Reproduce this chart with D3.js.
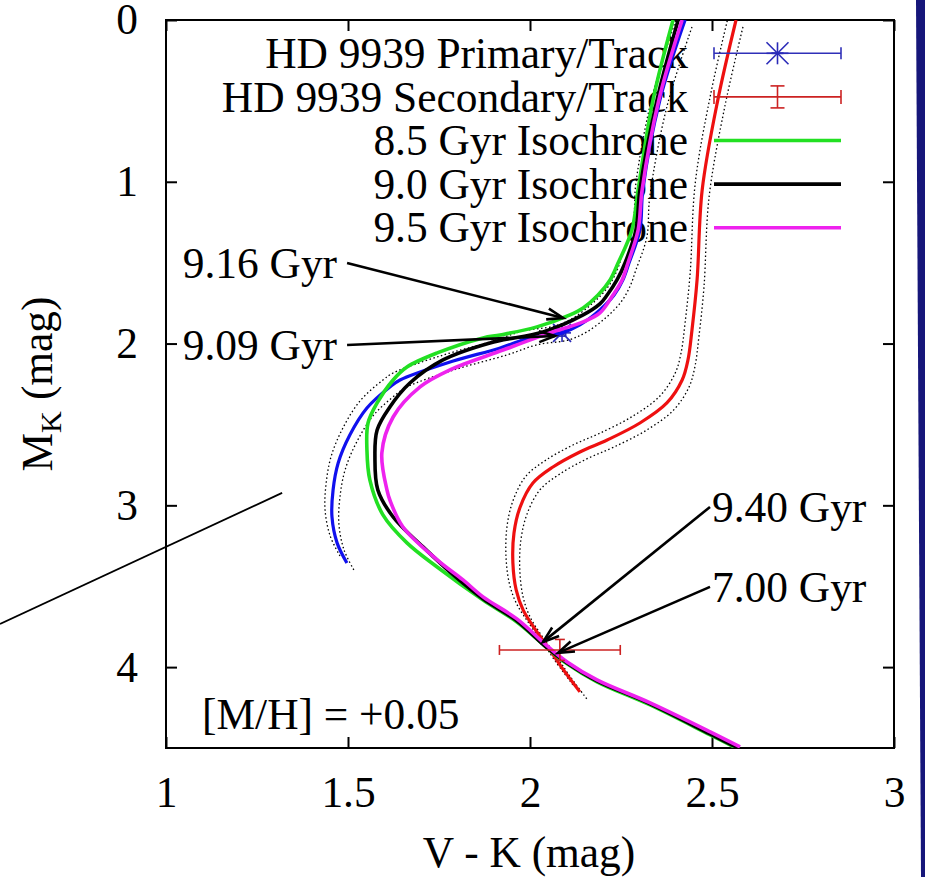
<!DOCTYPE html>
<html>
<head>
<meta charset="utf-8">
<script src="https://cdn.jsdelivr.net/npm/d3@7"></script>
<style>
    body { margin: 0; background: #ffffff; }
    svg { display: block; }
    text { font-family: "Liberation Serif", "Tinos", "Times New Roman", "Nimbus Roman", "FreeSerif", "Noto Serif", "DejaVu Serif", serif; fill: #000; }
</style>
</head>
<body>
<div class="cmdChart"></div>
<script>
// axis ticks
const xTicks = [1, 1.5, 2, 2.5, 3]
const yTicks = [0, 1, 2, 3, 4]

// legend entries
const legendLabels = ["HD 9939 Primary/Track", "HD 9939 Secondary/Track",
    "8.5 Gyr Isochrone", "9.0 Gyr Isochrone", "9.5 Gyr Isochrone"]

// evolutionary tracks [V-K, M_K]
const primaryTrack = [[2.426, 0], [2.357, 0.494], [2.310, 1.051], [2.302, 1.298], [2.272, 1.502],
    [2.255, 1.607], [2.231, 1.700], [2.192, 1.792], [2.137, 1.885], [2.088, 1.934], [2.000, 1.965],
    [1.918, 2.027], [1.772, 2.120], [1.643, 2.225], [1.615, 2.268], [1.552, 2.398], [1.505, 2.565],
    [1.473, 2.738], [1.459, 2.905], [1.456, 3.072], [1.470, 3.232], [1.497, 3.356]]
const secondaryTrack = [[2.566, 0], [2.516, 0.494], [2.473, 1.051], [2.459, 1.607], [2.445, 1.916],
    [2.434, 2.101], [2.418, 2.225], [2.376, 2.367], [2.302, 2.491], [2.212, 2.596], [2.137, 2.670],
    [2.063, 2.763], [2.008, 2.862], [1.973, 3.010], [1.956, 3.171], [1.953, 3.356], [1.962, 3.523],
    [1.981, 3.646], [2.019, 3.782], [2.055, 3.894], [2.088, 4.005], [2.137, 4.153]]
// track uncertainty (dotted envelopes), mag
const trackSigma = [0.019, 0.043]

// isochrones
const iso85 = [[2.393, 0], [2.338, 0.494], [2.297, 1.051], [2.280, 1.298], [2.242, 1.502], [2.220, 1.607],
    [2.187, 1.700], [2.146, 1.780], [2.110, 1.823], [2.019, 1.897], [1.918, 1.947], [1.871, 1.965],
    [1.745, 2.058], [1.662, 2.145], [1.624, 2.225], [1.580, 2.367], [1.555, 2.491], [1.552, 2.658],
    [1.560, 2.843], [1.596, 3.059], [1.662, 3.232], [1.745, 3.381], [1.871, 3.585], [1.964, 3.721],
    [2.047, 3.881], [2.102, 3.980], [2.184, 4.091], [2.330, 4.234], [2.495, 4.419], [2.577, 4.512]]
const iso90 = [[2.407, 0], [2.349, 0.494], [2.302, 1.051], [2.291, 1.298], [2.261, 1.502], [2.239, 1.607],
    [2.212, 1.700], [2.192, 1.755], [2.146, 1.823], [2.036, 1.928], [1.890, 1.996], [1.761, 2.101],
    [1.670, 2.244], [1.615, 2.392], [1.580, 2.534], [1.574, 2.701], [1.582, 2.905], [1.624, 3.072],
    [1.706, 3.257], [1.799, 3.449], [1.871, 3.578], [1.964, 3.714], [2.047, 3.881], [2.102, 3.974],
    [2.184, 4.085], [2.330, 4.227], [2.495, 4.413], [2.577, 4.506]]
const iso95 = [[2.418, 0], [2.354, 0.494], [2.308, 1.051], [2.297, 1.298], [2.269, 1.502], [2.253, 1.607],
    [2.228, 1.700], [2.192, 1.811], [2.146, 1.866], [2.055, 1.934], [1.926, 2.040], [1.780, 2.163],
    [1.698, 2.268], [1.624, 2.454], [1.593, 2.676], [1.607, 2.905], [1.615, 2.967], [1.651, 3.134],
    [1.745, 3.337], [1.816, 3.461], [1.871, 3.566], [1.964, 3.702], [2.047, 3.869], [2.102, 3.968],
    [2.184, 4.079], [2.330, 4.221], [2.495, 4.400], [2.577, 4.493]]

// observed stars: [V-K, M_K, errV-K, errM_K]
const primaryStar = [2.088, 1.934, 0.01, 0.02]
const secondaryStar = [2.082, 3.894, 0.166, 0.065]

// age labels with arrows
const ageLabels = ["9.16 Gyr", "9.09 Gyr", "9.40 Gyr", "7.00 Gyr"]
const ageLabelPos = [[1.470, 1.502], [1.470, 2.009], [2.500, 3.010], [2.500, 3.504]]
const ageArrowTips = [[2.091, 1.842], [2.069, 1.953], [2.036, 3.844], [2.077, 3.912]]

const metalLabel = "[M/H] = +0.05"
const metalPos = [1.099, 4.289]

// stray pointer line from the slide
const pointerLine = [[0.544, 3.733], [1.319, 2.923]]

function renderHRChart() {
    const width = 925
    const height = 877
    const margin = {left: 166, top: 20, right: 31, bottom: 129}

    const svg = d3.select('.cmdChart').append('svg')
        .attr('width', width)
        .attr('height', height)
        .attr('viewBox', `0 0 ${width} ${height}`)

    // size the font so the first legend entry spans ~423px like the original
    const probe = svg.append('text').attr('font-size', '41px').text(legendLabels[0])
    const probeLen = probe.node().getComputedTextLength() || 423
    probe.remove()
    const fontSize = Math.max(32, Math.min(46, 41 * 423 / probeLen))

    const x = d3.scaleLinear().domain([1, 3]).range([margin.left, width - margin.right])
    const y = d3.scaleLinear().domain([0, 4.5]).range([margin.top, height - margin.bottom])

    // slide edge on the right
    svg.append('path')
        .attr('d', `M916,0 L925,0 L925,${height} L921,${height} Z`)
        .attr('fill', '#16167a')

    svg.append('clipPath').attr('id', 'plotClip')
        .append('rect')
        .attr('x', x(1)).attr('y', y(0))
        .attr('width', x(3) - x(1)).attr('height', y(4.5) - y(0))

    // axes
    const fmt = d3.format('')
    const styleAxis = g => {
        g.select('.domain').remove()
        g.selectAll('line').attr('stroke', '#000').attr('stroke-width', 2)
        g.selectAll('text').attr('font-size', fontSize + 'px')
        g.attr('font-family', null).attr('font-size', null)
    }
    svg.append('g')
        .attr('transform', `translate(0,${y(4.5)})`)
        .call(d3.axisBottom(x).tickValues(xTicks).tickSize(-11).tickPadding(28).tickFormat(fmt))
        .call(styleAxis)
    svg.append('g')
        .attr('transform', `translate(0,${y(0)})`)
        .call(d3.axisTop(x).tickValues(xTicks).tickSize(-11).tickFormat(''))
        .call(styleAxis)
    svg.append('g')
        .attr('transform', `translate(${x(1)},0)`)
        .call(d3.axisLeft(y).tickValues(yTicks).tickSize(-11).tickPadding(28).tickFormat(fmt))
        .call(styleAxis)
    svg.append('g')
        .attr('transform', `translate(${x(3)},0)`)
        .call(d3.axisRight(y).tickValues(yTicks).tickSize(-11).tickFormat(''))
        .call(styleAxis)

    svg.append('rect')
        .attr('x', x(1)).attr('y', y(0))
        .attr('width', x(3) - x(1)).attr('height', y(4.5) - y(0))
        .attr('fill', 'none').attr('stroke', '#000').attr('stroke-width', 2)

    // axis titles
    svg.append('text')
        .attr('x', (x(1) + x(3)) / 2 - 1)
        .attr('y', 867)
        .attr('text-anchor', 'middle')
        .attr('font-size', fontSize + 'px')
        .text('V - K (mag)')

    const yTitle = svg.append('text')
        .attr('transform', 'translate(52,384) rotate(-90)')
        .attr('text-anchor', 'middle')
        .attr('font-size', fontSize + 'px')
    yTitle.append('tspan').text('M')
    yTitle.append('tspan').attr('dy', 9).attr('font-size', (fontSize * 0.7) + 'px').text('K')
    yTitle.append('tspan').attr('dy', -9).text(' (mag)')

    // legend text (curves are drawn over it)
    const legendTop = 53.3
    const legendStep = 43.6
    const legend = svg.selectAll('.legend')
        .data(legendLabels).enter()
        .append('g')
        .attr('class', 'legend')
        .attr('transform', (d, i) => `translate(0,${legendTop + legendStep * i})`)
    legend.append('text')
        .attr('x', 688)
        .attr('dy', '0.34em')
        .attr('text-anchor', 'end')
        .attr('font-size', fontSize + 'px')
        .text(d => d)

    const plot = svg.append('g').attr('clip-path', 'url(#plotClip)')
    const line = d3.line()
        .x(d => x(d[0]))
        .y(d => y(d[1]))
        .curve(d3.curveCatmullRom.alpha(0.5))

    // error bars
    const errorBar = (g, cx, cy, x0, x1, y0, y1, colour, cap) => {
        const bar = g.append('g').attr('stroke', colour).attr('stroke-width', 1.6).attr('fill', 'none')
        bar.append('line').attr('x1', x0).attr('x2', x1).attr('y1', cy).attr('y2', cy)
        bar.append('line').attr('x1', cx).attr('x2', cx).attr('y1', y0).attr('y2', y1)
        bar.append('line').attr('x1', x0).attr('x2', x0).attr('y1', cy - cap).attr('y2', cy + cap)
        bar.append('line').attr('x1', x1).attr('x2', x1).attr('y1', cy - cap).attr('y2', cy + cap)
        bar.append('line').attr('x1', cx - cap).attr('x2', cx + cap).attr('y1', y0).attr('y2', y0)
        bar.append('line').attr('x1', cx - cap).attr('x2', cx + cap).attr('y1', y1).attr('y2', y1)
    }
    const star = (g, cx, cy, r, colour) => {
        const s = g.append('g').attr('stroke', colour).attr('stroke-width', 1.6)
        s.append('line').attr('x1', cx - r).attr('x2', cx + r).attr('y1', cy).attr('y2', cy)
        s.append('line').attr('x1', cx).attr('x2', cx).attr('y1', cy - r).attr('y2', cy + r)
        s.append('line').attr('x1', cx - r).attr('x2', cx + r).attr('y1', cy - r).attr('y2', cy + r)
        s.append('line').attr('x1', cx - r).attr('x2', cx + r).attr('y1', cy + r).attr('y2', cy - r)
    }

    // primary star sits under the curves
    const [px, py, pex, pey] = primaryStar
    errorBar(plot, x(px), y(py), x(px - pex), x(px + pex), y(py - pey), y(py + pey), '#2a2ab8', 4)
    star(plot, x(px), y(py), 9, '#2a2ab8')

    // tracks with dotted uncertainty envelopes
    const drawTrack = (track, colour) => {
        [-1, 1].forEach(s => {
            plot.append('path')
                .datum(track.map(p => [p[0] + s * trackSigma[0], p[1] + s * trackSigma[1]]))
                .attr('d', line)
                .attr('fill', 'none')
                .attr('stroke', '#000')
                .attr('stroke-width', 1.3)
                .attr('stroke-dasharray', '1.5,2.5')
        })
        plot.append('path')
            .datum(track)
            .attr('d', line)
            .attr('fill', 'none')
            .attr('stroke', colour)
            .attr('stroke-width', 3.2)
    }
    drawTrack(primaryTrack, '#1010ee')
    drawTrack(secondaryTrack, '#ee1010')

    // isochrones
    const isoSeries = [[iso85, '#22e022'], [iso90, '#000000'], [iso95, '#ee22ee']]
    isoSeries.forEach(([iso, colour]) => {
        plot.append('path')
            .datum(iso)
            .attr('d', line)
            .attr('fill', 'none')
            .attr('stroke', colour)
            .attr('stroke-width', 3.6)
            .attr('stroke-linejoin', 'round')
    })

    const [sx, sy, sex, sey] = secondaryStar
    errorBar(plot, x(sx), y(sy), x(sx - sex), x(sx + sex), y(sy - sey), y(sy + sey), '#cc2222', 5)

    // legend samples
    const sampleX0 = 714
    const sampleX1 = 841
    const sampleMid = (sampleX0 + sampleX1) / 2
    const rowY = i => legendTop + legendStep * i
    errorBar(svg, sampleMid, rowY(0), sampleX0, sampleX1, rowY(0), rowY(0), '#3030b8', 6)
    star(svg, sampleMid, rowY(0), 11, '#2a2ab8')
    errorBar(svg, sampleMid, rowY(1), sampleX0, sampleX1, rowY(1) - 11, rowY(1) + 11, '#cc2222', 7)
    isoSeries.forEach(([iso, colour], i) => {
        svg.append('line')
            .attr('x1', sampleX0).attr('x2', sampleX1)
            .attr('y1', rowY(i + 2)).attr('y2', rowY(i + 2))
            .attr('stroke', colour).attr('stroke-width', 3.6)
    })

    // age annotations
    ageLabels.forEach((label, i) => {
        const [lx, ly] = ageLabelPos[i]
        const left = lx < 2
        svg.append('text')
            .attr('x', x(lx)).attr('y', y(ly))
            .attr('dy', '0.34em')
            .attr('text-anchor', left ? 'end' : 'start')
            .attr('font-size', fontSize + 'px')
            .text(label)
        const x1 = x(lx) + (left ? 10 : -2)
        const y1 = y(ly)
        const x2 = x(ageArrowTips[i][0])
        const y2 = y(ageArrowTips[i][1])
        const ang = Math.atan2(y2 - y1, x2 - x1)
        const head = 17
        const spread = 0.33
        const arrow = svg.append('g').attr('stroke', '#000').attr('stroke-width', 2.6).attr('fill', 'none')
        arrow.append('line').attr('x1', x1).attr('y1', y1).attr('x2', x2).attr('y2', y2)
        arrow.append('path')
            .attr('d', `M${x2 - head * Math.cos(ang - spread)},${y2 - head * Math.sin(ang - spread)}` +
                ` L${x2},${y2} L${x2 - head * Math.cos(ang + spread)},${y2 - head * Math.sin(ang + spread)}`)
    })

    svg.append('text')
        .attr('x', x(metalPos[0])).attr('y', y(metalPos[1]))
        .attr('dy', '0.34em')
        .attr('font-size', fontSize + 'px')
        .text(metalLabel)

    svg.append('line')
        .attr('x1', x(pointerLine[0][0])).attr('y1', y(pointerLine[0][1]))
        .attr('x2', x(pointerLine[1][0])).attr('y2', y(pointerLine[1][1]))
        .attr('stroke', '#000').attr('stroke-width', 1.8)
}

renderHRChart()
</script>
</body>
</html>
